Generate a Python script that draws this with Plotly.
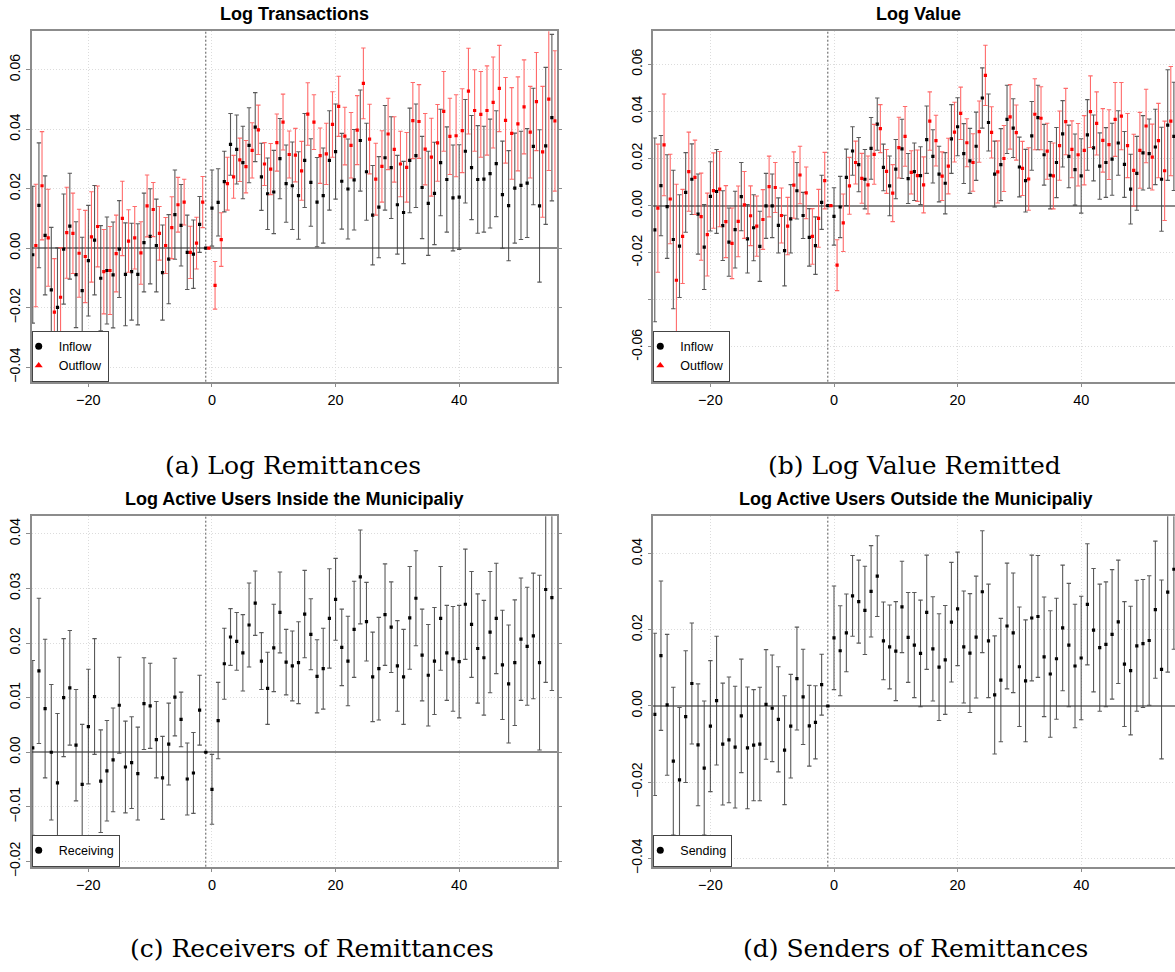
import plotly.graph_objects as go

# ---------------- data ----------------
EVENT_TIME = list(range(-29, 56))  # months relative to event (reference period = -1)

# (a) Log Transactions
A_INFLOW = [-0.0022, 0.0144, 0.0043, -0.014, -0.0199, -0.0003, 0.0074, -0.0089, -0.0143, -0.0042,
            0.0027, -0.0101, -0.0075, -0.009, -0.0003, -0.0088, -0.0079, -0.0088, 0.0019, 0.004,
            0.0009, -0.0082, -0.0037, 0.0113, 0.0077, -0.0014, -0.002, 0.008, 0.0, 0.0135,
            0.0154, 0.0224, 0.0349, 0.0332, 0.0288, 0.0346, 0.0407, 0.024, 0.0183, 0.0189,
            0.0301, 0.0217, 0.021, 0.0177, 0.0295, 0.0221, 0.0155, 0.0177, 0.0295, 0.0325,
            0.0225, 0.0199, 0.023, 0.0362, 0.0257, 0.0111, 0.0138, 0.0304, 0.0271, 0.0146,
            0.012, 0.0295, 0.0311, 0.0204, 0.0151, 0.0184, 0.0288, 0.0231, 0.0169, 0.0172,
            0.0326, 0.0271, 0.0231, 0.0232, 0.0251, 0.0284, 0.018, 0.0143, 0.0202, 0.0211,
            0.0219, 0.0342, 0.0142, 0.0344, 0.0439]
A_INFLOW_CI = [0.023, 0.021, 0.020, 0.021, 0.020, 0.0185, 0.0178, 0.0178, 0.018, 0.0186,
               0.0184, 0.0177, 0.018, 0.0178, 0.0163, 0.0173, 0.0163, 0.017, 0.0166, 0.016,
               0.0156, 0.016, 0.015, 0.015, 0.0137, 0.0125, 0.0115, 0.0094, 0.0, 0.0128,
               0.0113, 0.0102, 0.0104, 0.0116, 0.0122, 0.0126, 0.0116, 0.0113, 0.012, 0.014,
               0.0135, 0.013, 0.0147, 0.0147, 0.0158, 0.0147, 0.015, 0.016, 0.0167, 0.016,
               0.0161, 0.0168, 0.0169, 0.017, 0.0163, 0.0167, 0.017, 0.0176, 0.0171, 0.0166,
               0.0172, 0.0176, 0.0174, 0.0172, 0.0175, 0.0172, 0.0179, 0.0177, 0.0178, 0.0176,
               0.0174, 0.0175, 0.0181, 0.0178, 0.0183, 0.0178, 0.018, 0.0185, 0.0185, 0.0182,
               0.0183, 0.0196, 0.0256, 0.0264, 0.028]
A_OUTFLOW = [0.0009, 0.021, 0.0035, -0.0215, -0.0165, 0.0052, 0.005, -0.0017, -0.0028, 0.0038,
             0.0073, -0.0079, -0.0075, -0.0018, 0.01, 0.0024, 0.0035, -0.0016, 0.0142, 0.013,
             0.005, 0.0009, 0.0069, 0.0146, 0.0155, -0.0014, 0.0017, 0.0155, 0.0, -0.0125,
             0.0029, 0.0217, 0.024, 0.0297, 0.0274, 0.0329, 0.0398, 0.0283, 0.0266, 0.0355,
             0.0424, 0.0315, 0.0313, 0.026, 0.0451, 0.0424, 0.0311, 0.0317, 0.0416, 0.0477,
             0.0377, 0.0346, 0.0397, 0.0554, 0.0367, 0.0232, 0.0275, 0.0384, 0.0332, 0.0283,
             0.0272, 0.0429, 0.0426, 0.0333, 0.0306, 0.0354, 0.046, 0.0376, 0.0378, 0.0395,
             0.0528, 0.0463, 0.045, 0.0463, 0.049, 0.0537, 0.043, 0.0386, 0.0418, 0.0475,
             0.039, 0.0493, 0.0324, 0.0501, 0.0428]
A_OUTFLOW_CI = [0.0206, 0.0182, 0.0163, 0.018, 0.0167, 0.0153, 0.0135, 0.0148, 0.0155, 0.0152,
                0.0136, 0.0142, 0.0148, 0.0129, 0.0125, 0.0105, 0.0105, 0.0105, 0.0104, 0.0091,
                0.009, 0.0094, 0.0104, 0.0092, 0.0077, 0.0088, 0.0087, 0.0086, 0.0, 0.008,
                0.009, 0.0089, 0.0072, 0.0073, 0.0088, 0.0093, 0.0083, 0.0072, 0.0086, 0.0096,
                0.0094, 0.0079, 0.009, 0.0099, 0.0105, 0.0092, 0.0093, 0.0103, 0.011, 0.0101,
                0.0097, 0.011, 0.0116, 0.0119, 0.0117, 0.0121, 0.012, 0.012, 0.011, 0.011,
                0.0117, 0.0128, 0.0124, 0.012, 0.0131, 0.0129, 0.0134, 0.0128, 0.0138, 0.0141,
                0.0144, 0.0137, 0.0144, 0.015, 0.0153, 0.0145, 0.0144, 0.0154, 0.0158, 0.0158,
                0.0154, 0.0165, 0.022, 0.024, 0.0236]

# (b) Log Value
B_INFLOW = [-0.0103, 0.0085, -0.0004, -0.0144, -0.0172, 0.0056, 0.0112, -0.0036, -0.0176, 0.0039,
            0.006, -0.0085, -0.0155, -0.0102, 0.0038, -0.0141, -0.0094, -0.0173, -0.0001, -0.0001,
            -0.0084, -0.0191, -0.0056, 0.0063, -0.0042, -0.0135, -0.017, 0.0014, 0.0, -0.0046,
            -0.0006, 0.012, 0.0232, 0.0174, 0.0112, 0.0243, 0.0346, 0.0162, 0.0084, 0.0155,
            0.0241, 0.0115, 0.0144, 0.0127, 0.028, 0.0209, 0.0134, 0.0095, 0.0283, 0.0335,
            0.0221, 0.019, 0.0252, 0.0457, 0.0353, 0.0134, 0.0174, 0.0366, 0.0329, 0.0164,
            0.0106, 0.0296, 0.0374, 0.0216, 0.0129, 0.0183, 0.0305, 0.0209, 0.0153, 0.0126,
            0.03, 0.0245, 0.0168, 0.0183, 0.0197, 0.0266, 0.0175, 0.007, 0.0137, 0.0224,
            0.0221, 0.0249, 0.0112, 0.0342, 0.0294]
B_INFLOW_CI = [0.039, 0.0213, 0.022, 0.0294, 0.0218, 0.0169, 0.015, 0.017, 0.018, 0.0147,
               0.0178, 0.0148, 0.0145, 0.0163, 0.0145, 0.0145, 0.014, 0.0149, 0.0138, 0.0135,
               0.0117, 0.015, 0.0145, 0.012, 0.0098, 0.0122, 0.0122, 0.0115, 0.0, 0.0122,
               0.013, 0.012, 0.0103, 0.0115, 0.0126, 0.0131, 0.0111, 0.0099, 0.0127, 0.0126,
               0.0126, 0.0106, 0.0122, 0.0123, 0.0143, 0.0113, 0.0118, 0.013, 0.0146, 0.0123,
               0.0127, 0.0138, 0.0145, 0.0128, 0.0121, 0.014, 0.0153, 0.0145, 0.0125, 0.0127,
               0.0133, 0.0146, 0.0137, 0.0129, 0.0143, 0.0149, 0.0141, 0.0133, 0.0151, 0.0158,
               0.015, 0.014, 0.0141, 0.0148, 0.0153, 0.0137, 0.014, 0.0148, 0.0157, 0.0158,
               0.0147, 0.016, 0.0221, 0.0235, 0.023]
B_OUTFLOW = [-0.0011, 0.0258, 0.0028, -0.0317, -0.0131, 0.0144, 0.012, -0.0047, -0.0123, 0.0064,
             0.007, -0.0068, -0.016, -0.0067, 0.0003, -0.0043, -0.0087, -0.0059, 0.0081, 0.0077,
             -0.0042, -0.0087, 0.0087, 0.013, 0.0054, -0.0131, -0.0054, 0.0106, 0.0, -0.0253,
             -0.0073, 0.0084, 0.0183, 0.0116, 0.0088, 0.0218, 0.0327, 0.0145, 0.0053, 0.0246,
             0.0294, 0.0141, 0.0127, 0.0088, 0.0359, 0.0276, 0.0125, 0.0168, 0.0312, 0.0392,
             0.0267, 0.0183, 0.0314, 0.0553, 0.0311, 0.0143, 0.02, 0.0377, 0.031, 0.0158,
             0.0113, 0.0388, 0.0371, 0.0231, 0.0126, 0.0255, 0.0357, 0.0239, 0.0216, 0.0235,
             0.0399, 0.0349, 0.0277, 0.0259, 0.0366, 0.038, 0.0255, 0.015, 0.0235, 0.0338,
             0.0206, 0.0276, 0.0148, 0.0359, None]
B_OUTFLOW_CI = [0.0272, 0.0216, 0.019, 0.0408, 0.02, 0.0168, 0.0158, 0.0185, 0.0176, 0.016,
                0.016, 0.0153, 0.015, 0.015, 0.0142, 0.0127, 0.0128, 0.0127, 0.0129, 0.0106,
                0.0117, 0.0122, 0.0141, 0.0122, 0.011, 0.0118, 0.0123, 0.012, 0.0, 0.0108,
                0.0122, 0.0121, 0.0091, 0.0106, 0.0123, 0.0127, 0.0102, 0.0093, 0.0121, 0.0129,
                0.0127, 0.0092, 0.0109, 0.0119, 0.0124, 0.0108, 0.0103, 0.0118, 0.0127, 0.0111,
                0.0102, 0.0122, 0.013, 0.0128, 0.0109, 0.0132, 0.014, 0.0137, 0.0117, 0.0115,
                0.0133, 0.0151, 0.0134, 0.0119, 0.014, 0.0147, 0.0141, 0.0121, 0.0133, 0.0147,
                0.0152, 0.0134, 0.0135, 0.0148, 0.0157, 0.0143, 0.0136, 0.0153, 0.0161, 0.0156,
                0.014, 0.0158, 0.0211, 0.0232, None]

# (c) Log Active Users Inside the Municipality (Receiving)
C_RECEIVING = [0.0008, 0.0149, 0.008, 0.0, -0.0056, 0.01, 0.0118, 0.0013, -0.0059, 0.0047,
               0.0102, -0.0053, -0.0034, -0.0014, 0.0086, -0.0027, -0.0019, -0.0039, 0.0089, 0.0085,
               0.0023, -0.0047, 0.0015, 0.0101, 0.006, -0.0049, -0.0038, 0.0077, 0.0, -0.0068,
               0.0058, 0.0162, 0.0211, 0.0203, 0.0182, 0.0233, 0.0273, 0.0167, 0.0117, 0.0191,
               0.0256, 0.0165, 0.0158, 0.0164, 0.0253, 0.0216, 0.0139, 0.0153, 0.0245, 0.028,
               0.0192, 0.0167, 0.0225, 0.0321, 0.0239, 0.0138, 0.0153, 0.0252, 0.0229, 0.0158,
               0.0138, 0.0246, 0.0282, 0.0178, 0.0141, 0.0167, 0.0245, 0.0182, 0.0171, 0.0166,
               0.0271, 0.0234, 0.019, 0.0173, 0.022, 0.0245, 0.016, 0.0125, 0.0164, 0.0207,
               0.0194, 0.0213, 0.0164, 0.0298, 0.0283]
C_RECEIVING_CI = [0.016, 0.0133, 0.0127, 0.0124, 0.0127, 0.0108, 0.0105, 0.0102, 0.011, 0.0105,
                  0.0106, 0.0094, 0.0092, 0.0095, 0.0088, 0.0084, 0.0084, 0.0085, 0.0084, 0.0078,
                  0.007, 0.0076, 0.0075, 0.0071, 0.005, 0.0066, 0.0074, 0.0064, 0.0, 0.0064,
                  0.007, 0.0065, 0.0052, 0.0053, 0.007, 0.0077, 0.0059, 0.0052, 0.0066, 0.008,
                  0.0074, 0.006, 0.0064, 0.0075, 0.008, 0.0065, 0.0067, 0.0074, 0.0091, 0.0075,
                  0.007, 0.0082, 0.0088, 0.0086, 0.0072, 0.0082, 0.0094, 0.0093, 0.0083, 0.0083,
                  0.0087, 0.0094, 0.0087, 0.0084, 0.0093, 0.0098, 0.0095, 0.0087, 0.0096, 0.0103,
                  0.0101, 0.0097, 0.01, 0.0105, 0.0111, 0.0101, 0.01, 0.0108, 0.0115, 0.0112,
                  0.0108, 0.0115, 0.016, 0.017, 0.017]

# (d) Log Active Users Outside the Municipality (Sending)
D_SENDING = [-0.0022, 0.0132, 0.0003, -0.0145, -0.0194, -0.0028, 0.0059, -0.0102, -0.0163, -0.0053,
             0.0014, -0.01, -0.0089, -0.0108, -0.0026, -0.011, -0.0103, -0.01, 0.0004, -0.0006,
             -0.0035, -0.0116, -0.0053, 0.0072, 0.0024, -0.0052, -0.0043, 0.0056, 0.0, 0.0179,
             0.0145, 0.0192, 0.0289, 0.0274, 0.0251, 0.0301, 0.0341, 0.0171, 0.0155, 0.0144,
             0.026, 0.018, 0.016, 0.0138, 0.0246, 0.015, 0.0102, 0.0121, 0.022, 0.0255,
             0.0155, 0.0139, 0.0181, 0.03, 0.0171, 0.0029, 0.0068, 0.021, 0.0192, 0.0103,
             0.0066, 0.0231, 0.0235, 0.0129, 0.0084, 0.0124, 0.0205, 0.016, 0.0105, 0.0126,
             0.0267, 0.0199, 0.0153, 0.0162, 0.0188, 0.0221, 0.011, 0.0093, 0.0158, 0.0164,
             0.0172, 0.0253, 0.0096, 0.0299, 0.0359]
D_SENDING_CI = [0.0213, 0.0196, 0.0185, 0.0194, 0.019, 0.0173, 0.0159, 0.016, 0.0176, 0.0172,
                0.0169, 0.016, 0.0165, 0.016, 0.0149, 0.016, 0.0146, 0.0149, 0.0144, 0.014,
                0.0138, 0.0143, 0.0136, 0.0135, 0.0125, 0.0106, 0.0096, 0.008, 0.0, 0.0136,
                0.0118, 0.0102, 0.0106, 0.0109, 0.0116, 0.012, 0.0106, 0.0102, 0.011, 0.013,
                0.012, 0.0118, 0.0138, 0.014, 0.015, 0.0137, 0.014, 0.0143, 0.0157, 0.0149,
                0.0147, 0.0156, 0.016, 0.016, 0.0149, 0.0155, 0.0162, 0.0165, 0.0157, 0.0157,
                0.016, 0.0165, 0.016, 0.0157, 0.0166, 0.0159, 0.0165, 0.0162, 0.0162, 0.0162,
                0.0159, 0.0162, 0.0167, 0.0164, 0.017, 0.0162, 0.0164, 0.0169, 0.0172, 0.0168,
                0.017, 0.018, 0.0235, 0.021, 0.021]

TITLES = ["Log Transactions", "Log Value",
          "Log Active Users Inside the Municipaliy", "Log Active Users Outside the Municipaliy"]
CAPTIONS = ["(a) Log Remittances", "(b) Log Value Remitted",
            "(c) Receivers of Remittances", "(d) Senders of Remittances"]
REFERENCE_PERIOD = -1
OUTFLOW_OFFSET = 0.5

# ---------------- styling / layout ----------------
W, H = 1175, 972
BLACK_BAR = "rgba(60,60,60,0.85)"
RED_BAR = "rgba(255,80,80,0.85)"
FRAME = "#8c8c8c"
GRID = "#dcdcdc"

def px_x(a, b):
    return [a / W, b / W]

def px_y(top, bottom):
    return [1 - bottom / H, 1 - top / H]

panels = {
    1: dict(xd=px_x(31.7, 556.7), yd=px_y(31.7, 385.7), xr=[-29.17, 55.78], yr=[-0.0449, 0.0729],
            yt=[-0.04, -0.02, 0.0, 0.02, 0.04, 0.06], ytt=None, full=True),
    2: dict(xd=[653.3 / W, 1.0], yd=px_y(31.7, 385.7), xr=[-29.24, 55.18], yr=[-0.0748, 0.074],
            yt=[-0.06, -0.04, -0.02, 0.0, 0.02, 0.04, 0.06],
            ytt=["-0.06", "", "-0.02", "0.00", "0.02", "0.04", "0.06"], full=False),
    3: dict(xd=px_x(31.7, 556.7), yd=px_y(521.7, 875.7), xr=[-29.17, 55.78], yr=[-0.02096, 0.0432],
            yt=[-0.02, -0.01, 0.0, 0.01, 0.02, 0.03, 0.04], ytt=None, full=True),
    4: dict(xd=[653.3 / W, 1.0], yd=px_y(521.7, 875.7), xr=[-29.24, 55.18], yr=[-0.0422, 0.0498],
            yt=[-0.04, -0.02, 0.0, 0.02, 0.04], ytt=None, full=False),
}

fig = go.Figure()

def add_series(k, xs, ys, ci, color, barcolor, legend, name, legend_symbol):
    sfx = "" if k == 1 else str(k)
    fig.add_trace(go.Scatter(
        x=xs, y=ys, mode="markers", showlegend=False,
        marker=dict(symbol="square", size=3.2, color=color, line=dict(width=0)),
        error_y=dict(type="data", array=ci, symmetric=True, color=barcolor,
                     thickness=1.1, width=2.2),
        xaxis="x" + sfx, yaxis="y" + sfx, hoverinfo="skip"))
    fig.add_trace(go.Scatter(
        x=[None], y=[None], mode="markers", name=name, legend=legend,
        marker=dict(symbol=legend_symbol, size=7, color=color),
        xaxis="x" + sfx, yaxis="y" + sfx))

out_x = [t + OUTFLOW_OFFSET for t in EVENT_TIME]

add_series(1, EVENT_TIME, A_INFLOW, A_INFLOW_CI, "black", BLACK_BAR, "legend", "Inflow", "circle")
add_series(1, out_x, A_OUTFLOW, A_OUTFLOW_CI, "red", RED_BAR, "legend", "Outflow", "triangle-up")
add_series(2, EVENT_TIME, B_INFLOW, B_INFLOW_CI, "black", BLACK_BAR, "legend2", "Inflow", "circle")
add_series(2, out_x, B_OUTFLOW, B_OUTFLOW_CI, "red", RED_BAR, "legend2", "Outflow", "triangle-up")
add_series(3, EVENT_TIME, C_RECEIVING, C_RECEIVING_CI, "black", BLACK_BAR, "legend3", "Receiving", "circle")
add_series(4, EVENT_TIME, D_SENDING, D_SENDING_CI, "black", BLACK_BAR, "legend4", "Sending", "circle")

layout = dict(
    width=W, height=H, margin=dict(l=0, r=0, t=0, b=0),
    paper_bgcolor="white", plot_bgcolor="white",
    font=dict(family="Liberation Sans, Arial, sans-serif", size=14, color="black"),
    shapes=[], annotations=[],
)

for k, p in panels.items():
    sfx = "" if k == 1 else str(k)
    layout["xaxis" + sfx] = dict(
        domain=p["xd"], range=p["xr"], anchor="y" + sfx,
        tickvals=[-20, 0, 20, 40], ticks="outside", ticklen=4, tickcolor=FRAME,
        showline=True, linecolor=FRAME, linewidth=1.5, mirror=True,
        showgrid=True, gridcolor=GRID, griddash="1px,2px", gridwidth=1,
        zeroline=False, tickfont=dict(size=14.5))
    ya = dict(
        domain=p["yd"], range=p["yr"], anchor="x" + sfx,
        tickvals=p["yt"], tickformat=".2f", tickangle=-90,
        ticks="outside", ticklen=4, tickcolor=FRAME,
        showline=True, linecolor=FRAME, linewidth=1.5,
        mirror="ticks" if p["full"] else False,
        showgrid=True, gridcolor=GRID, griddash="1px,2px", gridwidth=1,
        zeroline=True, zerolinecolor="#8a8a8a", zerolinewidth=1.5,
        tickfont=dict(size=14))
    if p["ytt"] is not None:
        ya["ticktext"] = p["ytt"]
    layout["yaxis" + sfx] = ya
    layout["shapes"].append(dict(
        type="line", xref="x" + sfx, yref="y" + sfx + " domain",
        x0=REFERENCE_PERIOD, x1=REFERENCE_PERIOD, y0=0, y1=1,
        line=dict(color="#555555", width=1, dash="2px,2px"), layer="below"))

title_pos = [(294, 14), (918, 14), (293.5, 504), (916, 504)]
for (tx, ty), t in zip(title_pos, TITLES):
    layout["annotations"].append(dict(
        text="<b>" + t + "</b>", x=tx / W, y=1 - ty / H, xref="paper", yref="paper",
        xanchor="center", yanchor="middle", showarrow=False,
        font=dict(size=18, family="Liberation Sans, Arial, sans-serif")))

cap_pos = [(293, 470), (914, 470), (312, 958), (915, 958)]
for (cx, cy), c in zip(cap_pos, CAPTIONS):
    layout["annotations"].append(dict(
        text=c, x=cx / W, y=1 - cy / H, xref="paper", yref="paper",
        xanchor="center", yanchor="middle", showarrow=False,
        font=dict(size=25, family="DejaVu Serif, serif")))

leg_common = dict(bgcolor="white", bordercolor="#444444", borderwidth=1,
                  font=dict(size=12.5), itemwidth=30, xanchor="left", yanchor="bottom",
                  tracegroupgap=0, indentation=-14)
layout["legend"] = dict(x=31.7 / W, y=1 - 385.7 / H, **leg_common)
layout["legend2"] = dict(x=653.3 / W, y=1 - 385.7 / H, **leg_common)
layout["legend3"] = dict(x=31.7 / W, y=1 - 875.7 / H, **leg_common)
layout["legend4"] = dict(x=653.3 / W, y=1 - 875.7 / H, **leg_common)

fig.update_layout(**layout)
fig.write_html("out.html")
